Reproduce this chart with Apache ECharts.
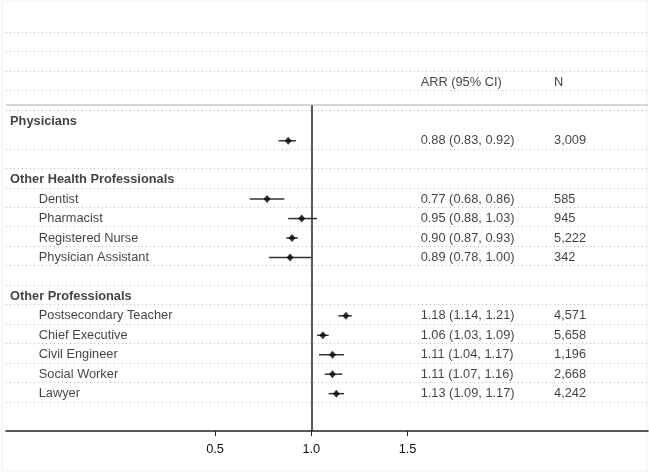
<!DOCTYPE html>
<html>
<head>
<meta charset="utf-8">
<script src="https://cdn.jsdelivr.net/npm/echarts@6/dist/echarts.min.js"></script>
<style>
html,body{margin:0;padding:0;background:#fff;}
#chart{width:649px;height:473px;}
</style>
</head>
<body>
<div id="chart"></div>
<script>
// ---- data ----
var groupHeaders = ['Physicians', 'Other Health Professionals', 'Other Professionals'];
var groupRows = [4, 7, 13];
var itemNames = ['', 'Dentist', 'Pharmacist', 'Registered Nurse', 'Physician Assistant',
  'Postsecondary Teacher', 'Chief Executive', 'Civil Engineer', 'Social Worker', 'Lawyer'];
var itemRows = [5, 8, 9, 10, 11, 14, 15, 16, 17, 18];
var arr = [0.88, 0.77, 0.95, 0.90, 0.89, 1.18, 1.06, 1.11, 1.11, 1.13];
var ciLow = [0.83, 0.68, 0.88, 0.87, 0.78, 1.14, 1.03, 1.04, 1.07, 1.09];
var ciHigh = [0.92, 0.86, 1.03, 0.93, 1.00, 1.21, 1.09, 1.17, 1.16, 1.17];
var nValues = ['3,009', '585', '945', '5,222', '342', '4,571', '5,658', '1,196', '2,668', '4,242'];
var colHeaders = ['ARR (95% CI)', 'N'];
var headerRow = 2;
var tickValues = [0.5, 1.0, 1.5];
var refValue = 1.0;

// ---- layout constants ----
var X_MIN = -0.586, X_MAX = 2.749;
var X_HEAD = -0.565, X_ITEM = -0.416, X_ARR = 1.568, X_N = 2.261;
var Y_MIN = -2, Y_MAX = 20;
var ROW_OFF = 0.08;
var RULE_Y = 3.25;
var FONT = '"Liberation Sans", Arial, Helvetica, sans-serif';
var FS = 12.8;

var dottedYs = [];
for (var k = 0; k <= 19; k++) { if (k !== 5) dottedYs.push(k - 0.5); }

function textSeries(data, bold) {
  return {
    type: 'scatter', silent: true, symbolSize: 0, z: 5,
    data: data,
    label: {
      show: true, position: 'right', distance: 0,
      formatter: function (p) { return p.data.text; },
      fontFamily: FONT, fontSize: FS, color: '#111',
      fontWeight: bold ? 'bold' : 'normal'
    }
  };
}

var headerTexts = groupHeaders.map(function (h, i) { return { value: [X_HEAD, groupRows[i] + ROW_OFF], text: h }; });
var itemTexts = [];
itemNames.forEach(function (nm, i) { if (nm) itemTexts.push({ value: [X_ITEM, itemRows[i] + ROW_OFF], text: nm }); });
var arrTexts = arr.map(function (a, i) {
  return { value: [X_ARR, itemRows[i] + ROW_OFF], text: a.toFixed(2) + ' (' + ciLow[i].toFixed(2) + ', ' + ciHigh[i].toFixed(2) + ')' };
});
var nTexts = nValues.map(function (n, i) { return { value: [X_N, itemRows[i] + ROW_OFF], text: n }; });
var colTexts = [{ value: [X_ARR, headerRow + ROW_OFF], text: colHeaders[0] }, { value: [X_N, headerRow + ROW_OFF], text: colHeaders[1] }];

var chart = echarts.init(document.getElementById('chart'), null, { renderer: 'canvas' });
chart.setOption({
  animation: false,
  backgroundColor: '#fff',
  grid: { left: 6, right: 1, top: 3, bottom: 42 },
  xAxis: {
    type: 'value', min: X_MIN, max: X_MAX,
    splitLine: { show: false },
    axisLine: { show: true, onZero: false, lineStyle: { color: '#222', width: 1.5 } },
    axisTick: { show: true, length: 5, customValues: tickValues, lineStyle: { color: '#222', width: 1 } },
    axisLabel: {
      customValues: tickValues, margin: 12,
      fontFamily: FONT, fontSize: FS, color: '#111',
      formatter: function (v) { return v.toFixed(1); }
    }
  },
  yAxis: { type: 'value', inverse: true, min: Y_MIN, max: Y_MAX, show: false },
  graphic: [{ type: 'rect', shape: { x: 2, y: 1, width: 645, height: 470 }, style: { fill: 'none', stroke: '#f0f0f0', lineWidth: 1 }, silent: true }],
  series: [
    {
      type: 'line', data: [], silent: true,
      markLine: {
        silent: true, symbol: 'none', label: { show: false }, animation: false,
        data: dottedYs.map(function (y) {
          return { yAxis: y, lineStyle: { color: '#b8b8b8', width: 1, type: [1, 3] } };
        }).concat([
          { yAxis: RULE_Y, lineStyle: { color: '#c8c8c8', width: 1.5, type: 'solid' } },
          [{ coord: [refValue, RULE_Y], lineStyle: { color: '#222', width: 1.5, type: 'solid' } }, { coord: [refValue, Y_MAX] }]
        ])
      }
    },
    {
      type: 'custom', silent: true, z: 3,
      data: arr.map(function (a, i) { return [ciLow[i], ciHigh[i], itemRows[i] + ROW_OFF]; }),
      encode: { x: [0, 1], y: 2 },
      renderItem: function (params, api) {
        var p1 = api.coord([api.value(0), api.value(2)]);
        var p2 = api.coord([api.value(1), api.value(2)]);
        return { type: 'line', shape: { x1: p1[0], y1: p1[1], x2: p2[0], y2: p2[1] }, style: { stroke: '#333', lineWidth: 1.5 } };
      }
    },
    {
      type: 'scatter', silent: true, z: 4, symbol: 'diamond', symbolSize: [7, 8],
      itemStyle: { color: '#000' },
      data: arr.map(function (a, i) { return [a, itemRows[i] + ROW_OFF]; })
    },
    textSeries(headerTexts, true),
    textSeries(itemTexts, false),
    textSeries(arrTexts, false),
    textSeries(nTexts, false),
    textSeries(colTexts, false)
  ]
});
</script>
</body>
</html>
